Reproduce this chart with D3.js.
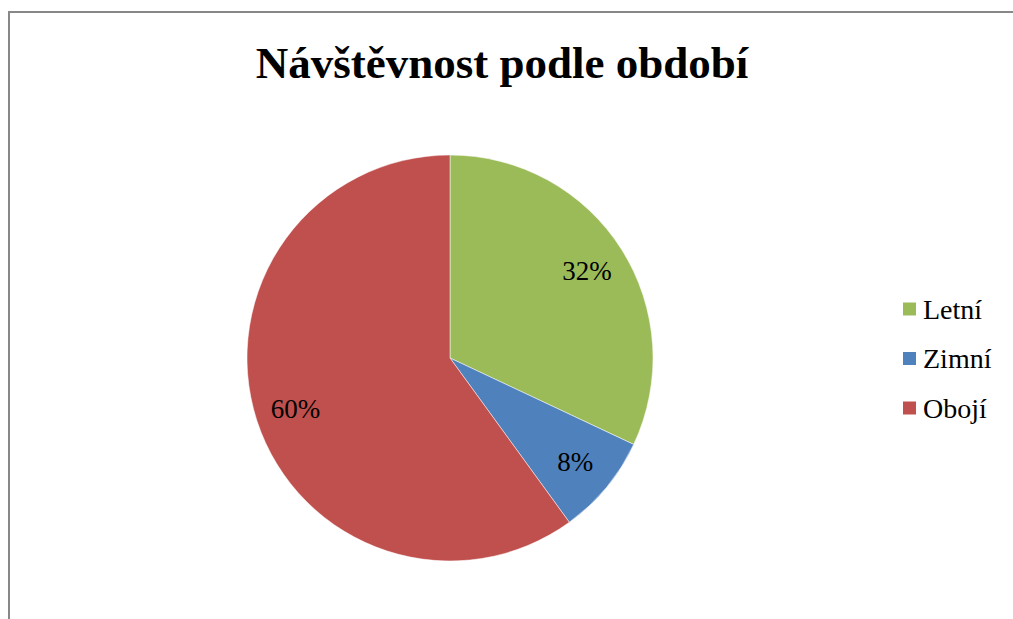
<!DOCTYPE html>
<html>
<head>
<meta charset="utf-8">
<script src="https://cdn.jsdelivr.net/npm/d3@7"></script>
<style>
  body { margin: 0; background: #fff; }
  svg { display: block; }
</style>
</head>
<body>
<svg id="chart" width="1013" height="619"></svg>
<script>
// data
var categories = ["Letní", "Zimní", "Obojí"];
var shares = [32, 8, 60];
var colors = ["#9BBB59", "#4F81BD", "#C0504D"];
var title = "Návštěvnost podle období";

var serif = "'Liberation Serif', 'Times New Roman', Times, serif";

var svg = d3.select("#chart");

// chart frame (runs off the right and bottom edges)
svg.append("rect")
  .attr("x", 9).attr("y", 12)
  .attr("width", 1020).attr("height", 640)
  .attr("fill", "#fff")
  .attr("stroke", "#888")
  .attr("stroke-width", 2);

svg.append("text")
  .attr("x", 502).attr("y", 78)
  .attr("text-anchor", "middle")
  .style("font-family", serif)
  .style("font-weight", "bold")
  .style("font-size", "45px")
  .attr("fill", "#000")
  .text(title);

var cx = 450, cy = 358, radius = 203;

var data = categories.map(function(c, i) { return {name: c, value: shares[i], color: colors[i]}; });

var pie = d3.pie()
  .sort(null)
  .value(function(d) { return d.value; });

var arc = d3.arc().innerRadius(0).outerRadius(radius);
var labelArc = d3.arc().innerRadius(radius * 0.8).outerRadius(radius * 0.8);

var g = svg.append("g").attr("transform", "translate(" + cx + "," + cy + ")");

var slices = g.selectAll(".slice")
  .data(pie(data))
  .enter().append("g")
  .attr("class", "slice");

slices.append("path")
  .attr("d", arc)
  .attr("fill", function(d) { return d.data.color; })
  .attr("stroke", "#fff")
  .attr("stroke-width", 0.5);

slices.append("text")
  .attr("transform", function(d) { return "translate(" + labelArc.centroid(d) + ")"; })
  .attr("text-anchor", "middle")
  .attr("dy", "0.35em")
  .style("font-family", serif)
  .style("font-size", "27px")
  .attr("fill", "#000")
  .text(function(d) { return d.data.value + "%"; });

// legend
var legend = svg.append("g").attr("transform", "translate(903,309)");

var item = legend.selectAll(".item")
  .data(data)
  .enter().append("g")
  .attr("class", "item")
  .attr("transform", function(d, i) { return "translate(0," + (i * 49.5) + ")"; });

item.append("rect")
  .attr("x", 0).attr("y", -6.5)
  .attr("width", 13).attr("height", 13)
  .attr("fill", function(d) { return d.color; });

item.append("text")
  .attr("x", 20)
  .attr("dy", "0.35em")
  .style("font-family", serif)
  .style("font-size", "28px")
  .attr("fill", "#000")
  .text(function(d) { return d.name; });
</script>
</body>
</html>
